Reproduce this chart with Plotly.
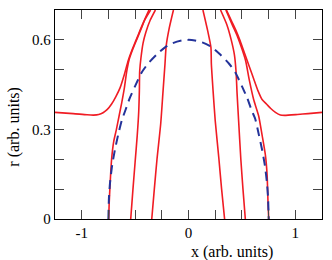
import plotly.graph_objects as go

# ---- data ----
a_left_x = [-1.25, -1.08, -0.95, -0.89, -0.84, -0.80, -0.76, -0.72, -0.68, -0.64, -0.60, -0.565, -0.53, -0.49, -0.45, -0.42, -0.37]
a_left_y = [0.357, 0.353, 0.349, 0.348, 0.350, 0.356, 0.367, 0.385, 0.41, 0.44, 0.485, 0.53, 0.565, 0.60, 0.635, 0.66, 0.70]

b_left_x = [-0.747, -0.743, -0.735, -0.72, -0.70, -0.675, -0.65, -0.625, -0.60, -0.578, -0.555, -0.52, -0.48, -0.44, -0.405, -0.355]
b_left_y = [0.0, 0.05, 0.11, 0.20, 0.26, 0.30, 0.345, 0.39, 0.44, 0.495, 0.535, 0.57, 0.605, 0.64, 0.67, 0.70]

c_left_x = [-0.541, -0.52, -0.50, -0.48, -0.466, -0.46, -0.457, -0.445, -0.425, -0.40, -0.36, -0.31]
c_left_y = [0.0, 0.10, 0.19, 0.28, 0.36, 0.43, 0.495, 0.54, 0.59, 0.625, 0.665, 0.70]

d_left_x = [-0.344, -0.32, -0.295, -0.26, -0.24, -0.22, -0.209, -0.18, -0.141]
d_left_y = [0.0, 0.10, 0.20, 0.32, 0.42, 0.52, 0.58, 0.64, 0.70]

d_right_x = [0.338, 0.31, 0.285, 0.25, 0.23, 0.214, 0.21, 0.18, 0.135]
d_right_y = [0.0, 0.10, 0.20, 0.33, 0.43, 0.52, 0.575, 0.63, 0.70]

c_right_x = [0.532, 0.51, 0.49, 0.469, 0.455, 0.445, 0.43, 0.40, 0.36, 0.30]
c_right_y = [0.0, 0.10, 0.20, 0.331, 0.42, 0.495, 0.55, 0.60, 0.65, 0.70]

b_right_x = [0.751, 0.745, 0.736, 0.72, 0.689, 0.657, 0.61, 0.57, 0.535, 0.50, 0.46, 0.41, 0.35]
b_right_y = [0.0, 0.05, 0.148, 0.214, 0.281, 0.345, 0.40, 0.464, 0.53, 0.57, 0.61, 0.65, 0.70]

a_right_x = [1.25, 1.12, 1.02, 0.90, 0.86, 0.814, 0.77, 0.73, 0.689, 0.65, 0.61, 0.58, 0.55, 0.515, 0.48, 0.44, 0.40, 0.355]
a_right_y = [0.357, 0.353, 0.350, 0.347, 0.348, 0.357, 0.370, 0.385, 0.40, 0.43, 0.47, 0.50, 0.53, 0.565, 0.60, 0.635, 0.665, 0.70]

dash_x = [-0.75, -0.745, -0.735, -0.715, -0.69, -0.66, -0.625, -0.59, -0.55, -0.50, -0.44, -0.38, -0.30, -0.22, -0.14, -0.06, 0.0,
          0.06, 0.14, 0.22, 0.30, 0.38, 0.44, 0.50, 0.55, 0.59, 0.625, 0.66, 0.69, 0.715, 0.735, 0.745, 0.751]
dash_y = [0.0, 0.07, 0.12, 0.18, 0.23, 0.28, 0.33, 0.365, 0.405, 0.445, 0.49, 0.52, 0.55, 0.575, 0.59, 0.598, 0.60,
          0.598, 0.59, 0.575, 0.55, 0.52, 0.49, 0.445, 0.405, 0.365, 0.335, 0.28, 0.23, 0.18, 0.12, 0.07, 0.0]

x_tickvals = [-1.25, -1.0, -0.75, -0.5, -0.25, 0.0, 0.25, 0.5, 0.75, 1.0, 1.25]
x_ticktext = ["", "-1", "", "", "", "0", "", "", "", "1", ""]
y_tickvals = [0.0, 0.1, 0.2, 0.3, 0.4, 0.5, 0.6, 0.7]
y_ticktext = ["0", "", "", "0.3", "", "", "0.6", ""]

RED = "#f01c24"
BLUE = "#24339a"
FONT = "Liberation Serif, Times New Roman, serif"

fig = go.Figure()
for xs, ys in [(a_left_x, a_left_y), (b_left_x, b_left_y), (c_left_x, c_left_y), (d_left_x, d_left_y),
               (d_right_x, d_right_y), (c_right_x, c_right_y), (b_right_x, b_right_y), (a_right_x, a_right_y)]:
    fig.add_trace(go.Scatter(x=xs, y=ys, mode="lines", line=dict(color=RED, width=1.6, shape="spline", smoothing=0.6),
                             showlegend=False, hoverinfo="skip"))
fig.add_trace(go.Scatter(x=dash_x, y=dash_y, mode="lines",
                         line=dict(color=BLUE, width=2, dash="9px,6px", shape="spline", smoothing=0.6),
                         showlegend=False, hoverinfo="skip"))

axis_common = dict(showgrid=False, zeroline=False, showline=True, linecolor="black", linewidth=1.2,
                   mirror="ticks", ticks="inside", ticklen=9, tickwidth=1, tickcolor="#444",
                   tickfont=dict(family=FONT, size=15, color="black"))
fig.update_xaxes(range=[-1.25, 1.25], tickmode="array", tickvals=x_tickvals, ticktext=x_ticktext, **axis_common)
fig.update_yaxes(range=[0, 0.7], tickmode="array", tickvals=y_tickvals, ticktext=y_ticktext, **axis_common)

fig.add_annotation(text="x (arb. units)", xref="paper", yref="paper", x=0.5, y=-0.16,
                   xanchor="left", yanchor="middle", showarrow=False, font=dict(family=FONT, size=16, color="black"))
fig.add_annotation(text="r (arb. units)", xref="paper", yref="paper", x=-0.155, y=0.44,
                   xanchor="center", yanchor="middle", textangle=-90, showarrow=False,
                   font=dict(family=FONT, size=16, color="black"))

fig.update_layout(width=332, height=260, margin=dict(l=55, r=10, t=10, b=41),
                  paper_bgcolor="white", plot_bgcolor="white", hovermode=False)
fig.write_html("out.html", config={"displayModeBar": False, "staticPlot": True},
               post_script="document.body.style.margin='0';document.body.style.padding='0';")
